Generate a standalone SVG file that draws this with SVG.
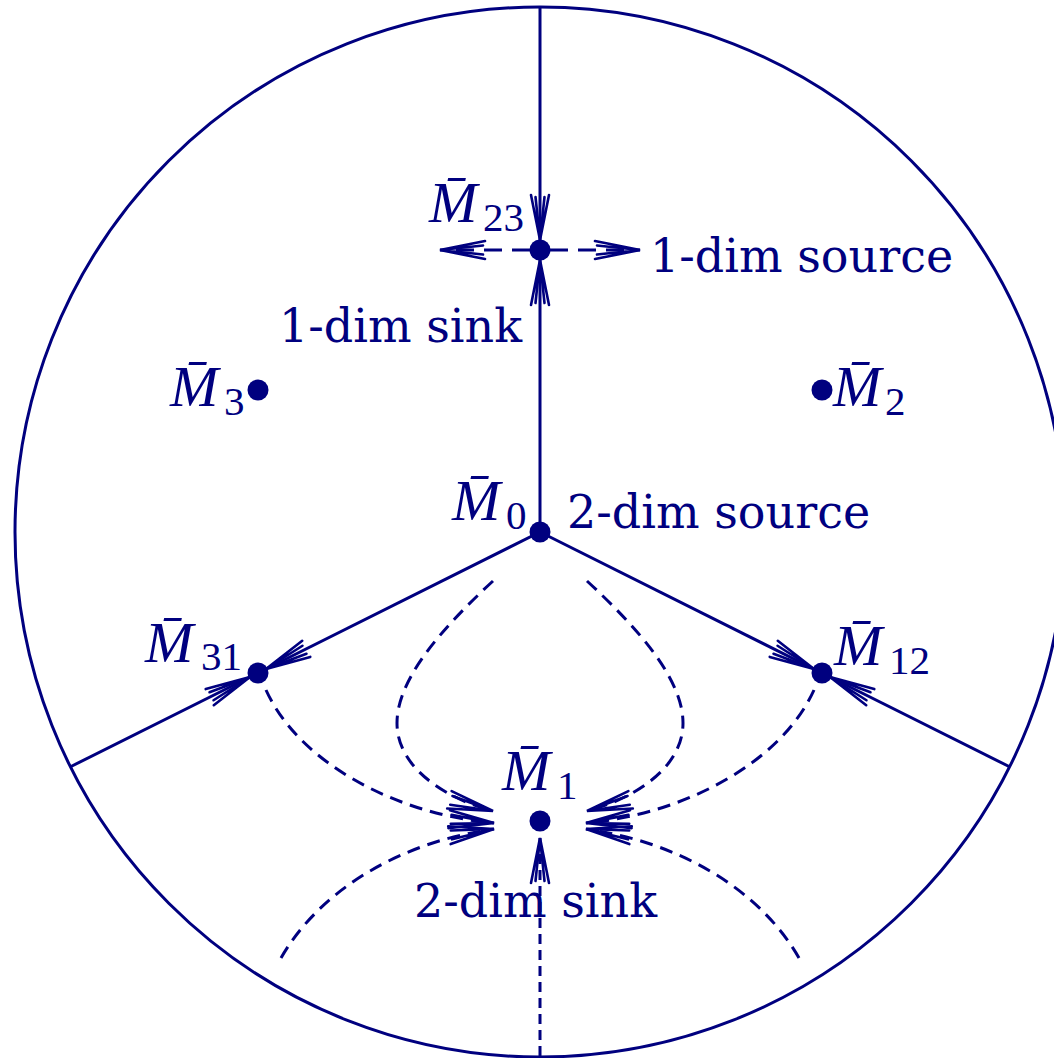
<svg xmlns="http://www.w3.org/2000/svg" width="1054" height="1058" viewBox="0 0 1054 1058">
<style>
.ln{fill:none;stroke:#00007f;stroke-width:3}
.dash{fill:none;stroke:#00007f;stroke-width:3;stroke-dasharray:13 8}
.dot{fill:#00007f}
.txt{font-family:"DejaVu Serif",serif;font-size:46px;fill:#00007f}
.m{font-family:"Liberation Serif",serif;font-style:italic;font-size:58px;fill:#00007f}
.sub{font-family:"Liberation Serif",serif;font-size:41px;fill:#00007f}
.ah{fill:none;stroke:#00007f;stroke-width:2.6;stroke-linecap:round;stroke-dasharray:none}
</style>
<defs>
<marker id="arr" markerUnits="userSpaceOnUse" orient="auto" refX="0" refY="0" markerWidth="1" markerHeight="1" overflow="visible">
<path class="ah" d="M -45 -9 L 0 0 L -45 9 M -43 -4.5 L 0 0 L -43 4.5"/>
</marker>
</defs>
<circle class="ln" cx="540" cy="532" r="525"/>
<g id="connectors">
<path class="ln" d="M 540 7 L 540 240" marker-end="url(#arr)"/>
<path class="ln" d="M 540 522 L 540 260" marker-end="url(#arr)"/>
<path class="ln" style="stroke-dasharray:18 10" d="M 530 250 L 440 250" marker-end="url(#arr)"/>
<path class="ln" style="stroke-dasharray:18 10" d="M 550 250 L 640 250" marker-end="url(#arr)"/>
<path class="ln" d="M 540 532 L 266 669" marker-end="url(#arr)"/>
<path class="ln" d="M 70 767 L 250 677" marker-end="url(#arr)"/>
<path class="ln" d="M 540 532 L 814 669" marker-end="url(#arr)"/>
<path class="ln" d="M 1010 767 L 830 677" marker-end="url(#arr)"/>
<path class="dash" d="M 266 690 C 300 765, 400 815, 494 823" marker-end="url(#arr)"/>
<path class="dash" d="M 814 690 C 780 765, 680 815, 586 823" marker-end="url(#arr)"/>
<path class="dash" d="M 493 581 C 440 630, 397 680, 397 723 C 397 770, 450 800, 493 811" marker-end="url(#arr)"/>
<path class="dash" d="M 587 581 C 640 630, 683 680, 683 723 C 683 770, 630 800, 587 811" marker-end="url(#arr)"/>
<path class="dash" d="M 281 958 C 320 890, 400 842, 494 829" marker-end="url(#arr)"/>
<path class="dash" d="M 799 958 C 760 890, 680 842, 586 829" marker-end="url(#arr)"/>
<path class="ln" style="stroke-dasharray:10 6" d="M 540 1056 L 540 838" marker-end="url(#arr)"/>
</g>
<g id="M0"><circle class="dot" cx="540" cy="532" r="10.5"/><text class="m" x="452" y="520">M̄</text><text class="sub" x="506" y="529">0</text><text class="txt" x="567" y="528">2-dim source</text></g>
<g id="M23"><circle class="dot" cx="540" cy="250" r="10.5"/><text class="m" x="429" y="222">M̄</text><text class="sub" x="483" y="231">23</text><text class="txt" x="650" y="272">1-dim source</text><text class="txt" x="279" y="342">1-dim sink</text></g>
<g id="M3"><circle class="dot" cx="258" cy="390" r="10.5"/><text class="m" x="170" y="406">M̄</text><text class="sub" x="224" y="415">3</text></g>
<g id="M2"><circle class="dot" cx="822" cy="390" r="10.5"/><text class="m" x="833" y="406">M̄</text><text class="sub" x="885" y="415">2</text></g>
<g id="M31"><circle class="dot" cx="258" cy="673" r="10.5"/><text class="m" x="145" y="662">M̄</text><text class="sub" x="201" y="670">31</text></g>
<g id="M12"><circle class="dot" cx="822" cy="673" r="10.5"/><text class="m" x="834" y="665">M̄</text><text class="sub" x="889" y="674">12</text></g>
<g id="M1"><circle class="dot" cx="540" cy="821" r="10.5"/><text class="m" x="502" y="790">M̄</text><text class="sub" x="557" y="799">1</text><text class="txt" x="414" y="917">2-dim sink</text></g>
</svg>
